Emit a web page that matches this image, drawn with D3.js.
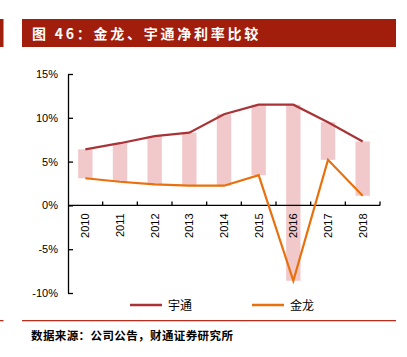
<!DOCTYPE html>
<html><head><meta charset="utf-8">
<script src="https://cdn.jsdelivr.net/npm/d3@7"></script>
<style>body{margin:0;background:#fff}svg{display:block}</style>
</head><body><svg id="c" width="407" height="357"></svg>
<script>
const years = ["2010","2011","2012","2013","2014","2015","2016","2017","2018"];
const yutong = [6.4, 7.1, 7.9, 8.3, 10.4, 11.5, 11.5, 9.5, 7.3];
const jinlong = [3.1, 2.7, 2.4, 2.25, 2.25, 3.45, -8.6, 5.2, 1.1];
const yTicks = [-10, -5, 0, 5, 10, 15];
const seriesNames = ["宇通", "金龙"];

const svg = d3.select("#c");
const red = "#a01e0b";
const cjk = "'Noto Sans CJK SC', sans-serif";

// header bar
svg.append("rect").attr("x",0).attr("y",19).attr("width",3.5).attr("height",28).attr("fill",red);
svg.append("rect").attr("x",22).attr("y",19).attr("width",374).attr("height",28).attr("fill",red);
svg.append("text").attr("x",32).attr("y",38.5).attr("fill","#fff")
  .style("font-family",cjk).style("font-weight","bold").style("font-size","14px")
  .style("letter-spacing","2.75px").text("图 46：金龙、宇通净利率比较");

const x = d3.scaleBand().domain(years).range([68, 380]).padding(0);
const y = d3.scaleLinear().domain([-10, 15]).range([293, 74]);
const cx = d => x(d) + x.bandwidth()/2;

// bars
const barW = 14.4;
svg.append("g").selectAll("rect").data(years).join("rect")
  .attr("x", d => cx(d) - barW/2)
  .attr("width", barW)
  .attr("y", (d,i) => y(Math.max(yutong[i], jinlong[i])))
  .attr("height", (d,i) => Math.abs(y(jinlong[i]) - y(yutong[i])))
  .attr("fill", "#f2c9cb");

// y axis
const ya = svg.append("g").attr("transform","translate(68,0)")
  .call(d3.axisLeft(y).tickValues(yTicks).tickSize(-5).tickSizeOuter(0).tickPadding(10).tickFormat(d => d + "%"));
ya.selectAll("path,line").attr("stroke","#000").attr("stroke-width",1.3);
ya.selectAll("text").style("font-family","'Liberation Sans', Arial, sans-serif").style("font-size","11px").attr("fill","#000");

// x axis
const y0 = y(0);
const xg = svg.append("g");
xg.append("line").attr("x1",68).attr("x2",380).attr("y1",y0).attr("y2",y0).attr("stroke","#000").attr("stroke-width",1.3);
const bounds = years.slice(1).map(d => x(d)).concat([x.range()[1]]);
xg.selectAll("line.t").data(bounds).join("line").attr("class","t")
  .attr("x1", d => d).attr("x2", d => d).attr("y1", y0).attr("y2", y0 - 4)
  .attr("stroke","#000").attr("stroke-width",1.3);
xg.selectAll("text").data(years).join("text")
  .attr("transform", d => `translate(${cx(d)},${y0 + 8}) rotate(-90)`)
  .attr("text-anchor","end").attr("dy","0.35em")
  .style("font-family","'Liberation Sans', Arial, sans-serif").style("font-size","11px")
  .text(d => d);

// lines
const line = d3.line().x((d,i) => cx(years[i])).y(d => y(d));
svg.append("path").datum(yutong).attr("d", line).attr("fill","none").attr("stroke","#a93336").attr("stroke-width",2.2);
svg.append("path").datum(jinlong).attr("d", line).attr("fill","none").attr("stroke","#e8700d").attr("stroke-width",2.2);

// legend
const leg = [{n:seriesNames[0], c:"#a93336", x:130}, {n:seriesNames[1], c:"#e8700d", x:252}];
leg.forEach(l => {
  svg.append("line").attr("x1",l.x).attr("x2",l.x+32).attr("y1",305).attr("y2",305).attr("stroke",l.c).attr("stroke-width",2.5);
  svg.append("text").attr("x",l.x+38).attr("y",309.5).style("font-family",cjk).style("font-size","12px").text(l.n);
});

// footer
svg.append("rect").attr("x",0).attr("y",320).attr("width",3.5).attr("height",1.3).attr("fill","#b5301f");
svg.append("rect").attr("x",22).attr("y",320).attr("width",374).attr("height",1.3).attr("fill","#b5301f");
svg.append("text").attr("x",31).attr("y",340).style("font-family",cjk).style("font-weight","bold").style("font-size","11.5px")
  .style("letter-spacing","0.4px").text("数据来源：公司公告，财通证券研究所");
</script></body></html>
